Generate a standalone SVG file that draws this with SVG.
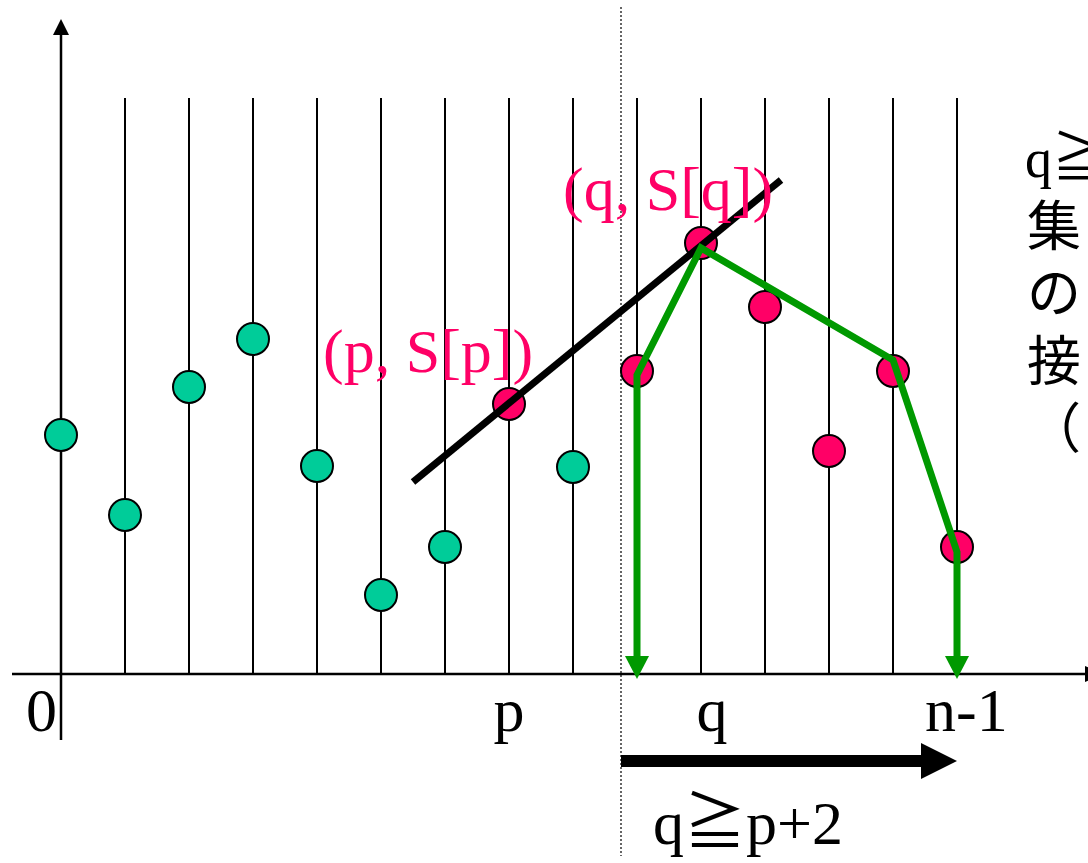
<svg xmlns="http://www.w3.org/2000/svg" width="1088" height="863" viewBox="0 0 1088 863">
<style>
.grid{stroke:#000;stroke-width:2;fill:none}
.axis{stroke:#000;stroke-width:2.5;fill:none}
.g{fill:#00CC99;stroke:#000;stroke-width:2}
.r{fill:#FF0066;stroke:#000;stroke-width:2}
.lbl{font-family:"Liberation Serif","Noto Sans CJK JP",serif;font-size:62px;fill:#000}
.red{font-family:"Liberation Serif","Noto Sans CJK JP",serif;font-size:62px;fill:#FF0066}
.side{font-family:"Liberation Serif","Noto Sans CJK JP",serif;font-size:54px;fill:#000}
.cjk{font-family:"Noto Sans CJK JP",sans-serif;font-size:54px;fill:#000}
.green{stroke:#009900;stroke-width:7;fill:none;stroke-linejoin:miter}
</style>
<rect width="1088" height="863" fill="#fff"/>
<g id="grid">
<line class="grid" x1="125" y1="98" x2="125" y2="674"/>
<line class="grid" x1="189" y1="98" x2="189" y2="674"/>
<line class="grid" x1="253" y1="98" x2="253" y2="674"/>
<line class="grid" x1="317" y1="98" x2="317" y2="674"/>
<line class="grid" x1="381" y1="98" x2="381" y2="674"/>
<line class="grid" x1="445" y1="98" x2="445" y2="674"/>
<line class="grid" x1="509" y1="98" x2="509" y2="674"/>
<line class="grid" x1="573" y1="98" x2="573" y2="674"/>
<line class="grid" x1="637" y1="98" x2="637" y2="674"/>
<line class="grid" x1="701" y1="98" x2="701" y2="674"/>
<line class="grid" x1="765" y1="98" x2="765" y2="674"/>
<line class="grid" x1="829" y1="98" x2="829" y2="674"/>
<line class="grid" x1="893" y1="98" x2="893" y2="674"/>
<line class="grid" x1="957" y1="98" x2="957" y2="674"/>
<line x1="621" y1="7" x2="621" y2="856" stroke="#333" stroke-width="1.5" stroke-dasharray="2,2"/>
</g>
<g id="axes">
<line class="axis" x1="61" y1="740" x2="61" y2="34"/>
<polygon points="61,19 53,35 69,35" fill="#000"/>
<line class="axis" x1="12" y1="674" x2="1086" y2="674"/>
<polygon points="1085,666 1085,682 1105,674" fill="#000"/>
</g>
<g id="points-green">
<circle class="g" cx="61" cy="435" r="16"/>
<circle class="g" cx="125" cy="515" r="16"/>
<circle class="g" cx="189" cy="387" r="16"/>
<circle class="g" cx="253" cy="339" r="16"/>
<circle class="g" cx="317" cy="466" r="16"/>
<circle class="g" cx="381" cy="595" r="16"/>
<circle class="g" cx="445" cy="547" r="16"/>
<circle class="g" cx="573" cy="467" r="16"/>
</g>
<g id="points-red">
<circle class="r" cx="509" cy="404" r="16"/>
<circle class="r" cx="637" cy="371" r="16"/>
<circle class="r" cx="701" cy="243" r="16"/>
<circle class="r" cx="765" cy="307" r="16"/>
<circle class="r" cx="829" cy="451" r="16"/>
<circle class="r" cx="893" cy="371" r="16"/>
<circle class="r" cx="957" cy="547" r="16"/>
</g>
<g id="connectors">
<line x1="413" y1="482" x2="781" y2="180" stroke="#000" stroke-width="7"/>
<polyline class="green" points="637,658 637,375 701,248 893,360 957,552 957,658"/>
<polygon points="625,656 649,656 637,679" fill="#009900"/>
<polygon points="945,656 969,656 957,679" fill="#009900"/>
<line x1="621" y1="761" x2="923" y2="761" stroke="#000" stroke-width="12"/>
<polygon points="921,743 921,779 957,761" fill="#000"/>
</g>
<g id="labels">
<text class="lbl" x="26" y="731">0</text>
<text class="lbl" x="509" y="731" text-anchor="middle">p</text>
<text class="lbl" x="712" y="731" text-anchor="middle">q</text>
<text class="lbl" x="925" y="731">n-1</text>
<text class="lbl" x="653" y="844">q≧p+2</text>
<text class="red" x="563" y="210">(q, S[q])</text>
<text class="red" x="323" y="372">(p, S[p])</text>
<text class="side" x="1025" y="177">q≧</text>
<text class="cjk" x="1027" y="246">集</text>
<text class="cjk" x="1027" y="313">の</text>
<text class="cjk" x="1027" y="381">接</text>
<text class="cjk" x="1027" y="448">（</text>
</g>
</svg>
